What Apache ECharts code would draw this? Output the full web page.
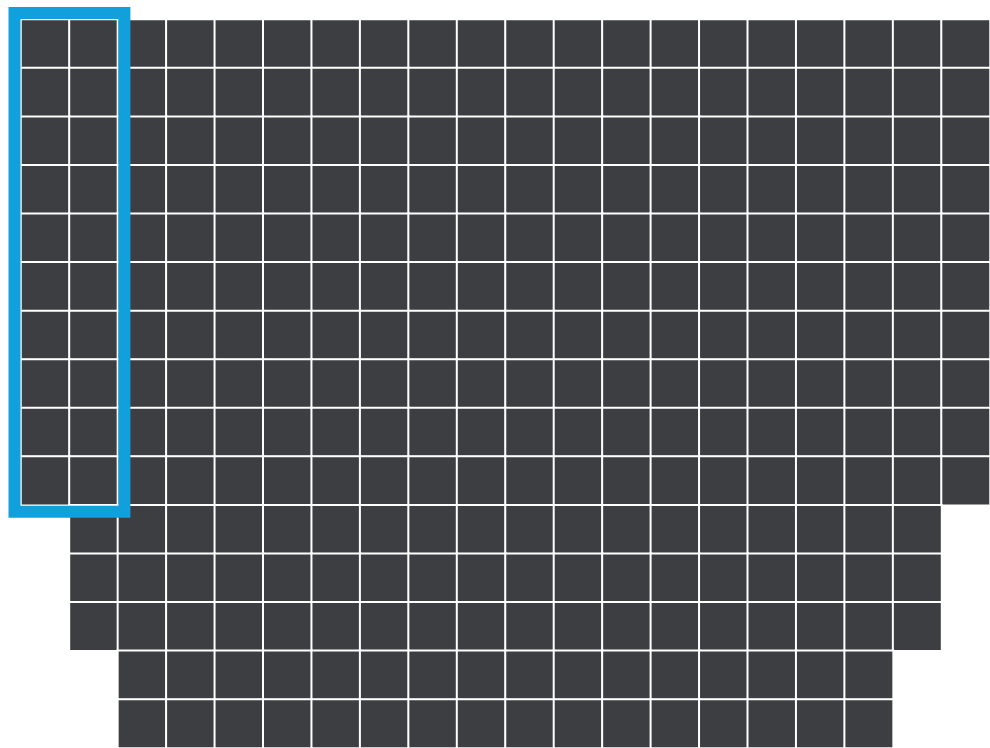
<!DOCTYPE html>
<html>
<head>
<meta charset="utf-8">
<script src="https://cdn.jsdelivr.net/npm/echarts@6/dist/echarts.min.js"></script>
<style>
html,body{margin:0;padding:0;background:#ffffff;}
#chart{width:990px;height:748px;}
</style>
</head>
<body>
<div id="chart"></div>
<script>
// Grid categories
const columns = ['1','2','3','4','5','6','7','8','9','10','11','12','13','14','15','16','17','18','19','20'];
const rows = ['1','2','3','4','5','6','7','8','9','10','11','12','13','14','15'];
// First and last filled column (index) in each row
const rowFirstCol = [0,0,0,0,0,0,0,0,0,0,1,1,1,2,2];
const rowLastCol  = [19,19,19,19,19,19,19,19,19,19,18,18,18,17,17];
// Highlighted block: columns 0..1, rows 0..9
const highlightCols = [0, 1];
const highlightRows = [0, 9];

const cells = [];
rows.forEach((r, ri) => {
  for (let c = rowFirstCol[ri]; c <= rowLastCol[ri]; c++) cells.push([c, ri, 1]);
});

const chart = echarts.init(document.getElementById('chart'), null, {renderer: 'canvas'});
chart.setOption({
  animation: false,
  backgroundColor: '#ffffff',
  grid: {left: 21, top: 19.5, width: 974, height: 730.5, containLabel: false},
  xAxis: {type: 'category', data: columns, show: false},
  yAxis: {type: 'category', data: rows, show: false, inverse: true},
  visualMap: {show: false, min: 0, max: 1, inRange: {color: ['#3c3e41', '#3c3e41']}},
  series: [
    {
      type: 'heatmap',
      data: cells,
      itemStyle: {borderColor: '#ffffff', borderWidth: 2},
      emphasis: {disabled: true},
      silent: true
    },
    {
      type: 'custom',
      z: 10,
      silent: true,
      data: [[highlightCols[0], highlightRows[0], highlightCols[1], highlightRows[1]]],
      renderItem: function (params, api) {
        const p0 = api.coord([api.value(0), api.value(1)]);
        const p1 = api.coord([api.value(2), api.value(3)]);
        const s = api.size([1, 1]);
        const pad = 6.5;
        return {
          type: 'rect',
          shape: {
            x: p0[0] - s[0] / 2 - pad,
            y: p0[1] - s[1] / 2 - pad,
            width: p1[0] - p0[0] + s[0] + pad * 2,
            height: p1[1] - p0[1] + s[1] + pad * 2
          },
          style: {fill: 'none', stroke: '#12a0dc', lineWidth: 12}
        };
      }
    }
  ]
});
</script>
</body>
</html>
